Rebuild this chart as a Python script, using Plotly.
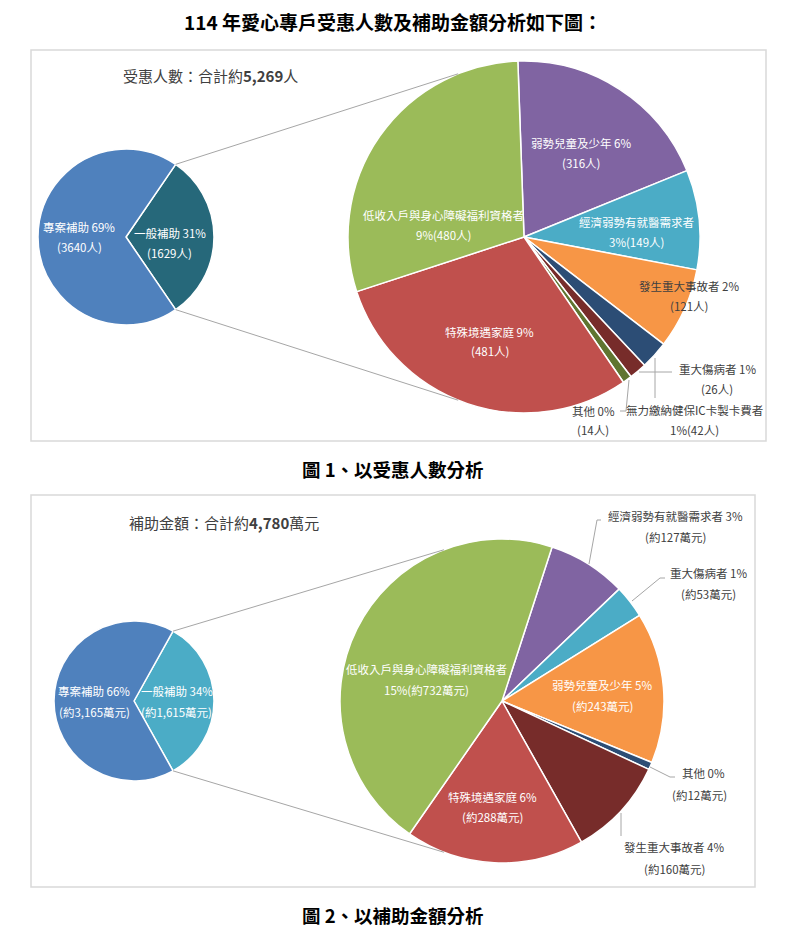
import math
import plotly.graph_objects as go

# ---------------- data ----------------
main_title = "114 年愛心專戶受惠人數及補助金額分析如下圖："
caption1 = "圖 1、以受惠人數分析"
caption2 = "圖 2、以補助金額分析"

total_people = "5,269"
total_money = "4,780"

split_labels = ["一般補助", "專案補助"]
split_people = [1629, 3640]
split_people_pct = ["31%", "69%"]
split_money = [1615, 3165]
split_money_pct = ["34%", "66%"]

people_cats = ["弱勢兒童及少年", "經濟弱勢有就醫需求者", "發生重大事故者",
               "無力繳納健保IC卡製卡費者", "重大傷病者", "其他",
               "特殊境遇家庭", "低收入戶與身心障礙福利資格者"]
people_vals = [316, 149, 121, 42, 26, 14, 481, 480]
people_pct = ["6%", "3%", "2%", "1%", "1%", "0%", "9%", "9%"]

money_cats = ["經濟弱勢有就醫需求者", "重大傷病者", "弱勢兒童及少年", "其他",
              "發生重大事故者", "特殊境遇家庭", "低收入戶與身心障礙福利資格者"]
money_vals = [127, 53, 243, 12, 160, 288, 732]
money_pct = ["3%", "1%", "5%", "0%", "4%", "6%", "15%"]

# ---------------- styling ----------------
W, H = 787, 928
CJK = "Noto Sans CJK TC"
DARK = "#404040"
GREY = "#A6A6A6"

people_colors = ["#8064A2", "#4BACC6", "#F79646", "#2C4D75", "#772C2A",
                 "#5F7530", "#C0504D", "#9BBB59"]
money_colors = ["#8064A2", "#4BACC6", "#F79646", "#2C4D75", "#772C2A",
                "#C0504D", "#9BBB59"]


def px(x):
    return x / W


def py(y):
    return 1 - y / H


fig = go.Figure()
shapes = []
annotations = []


def add_pie(values, colors, cx, cy, r, rotation):
    fig.add_trace(go.Pie(
        values=values, sort=False, direction="clockwise", rotation=rotation,
        domain=dict(x=[px(cx - r), px(cx + r)], y=[py(cy + r), py(cy - r)]),
        marker=dict(colors=colors, line=dict(color="white", width=1.5)),
        textinfo="none", hoverinfo="skip", showlegend=False))


def text(x, y, s, color=DARK, size=11.5, anchor="center", bold=False, family=CJK):
    annotations.append(dict(
        x=px(x), y=py(y), xref="paper", yref="paper", text=s, showarrow=False,
        xanchor=anchor, yanchor="middle",
        font=dict(family=family, size=size, color=color,
                  weight="bold" if bold else "normal")))


def label(x, y1, y2, l1, l2, color, x2=None):
    text(x, y1, l1, color)
    text(x if x2 is None else x2, y2, l2, color)


def line_path(points, color=GREY, width=1):
    d = "M " + " L ".join(f"{px(a)},{py(b)}" for a, b in points)
    shapes.append(dict(type="path", path=d, xref="paper", yref="paper",
                       line=dict(color=color, width=width)))


def box(x0, y0, x1, y1):
    shapes.append(dict(type="rect", xref="paper", yref="paper",
                       x0=px(x0), x1=px(x1), y0=py(y1), y1=py(y0),
                       line=dict(color="#D9D9D9", width=1.5), layer="below"))


def connectors(share, rot, scx, scy, sr, bcx, bcy, br, ang=22):
    a1 = math.radians(rot)
    a2 = math.radians(rot + 360 * share)
    p1 = (scx + sr * math.sin(a1), scy - sr * math.cos(a1))
    p2 = (scx + sr * math.sin(a2), scy - sr * math.cos(a2))
    b = math.radians(ang)
    q1 = (bcx - br * math.sin(b), bcy - br * math.cos(b))
    q2 = (bcx - br * math.sin(b), bcy + br * math.cos(b))
    line_path([p1, q1])
    line_path([p2, q2])


def two_lines(cat, pct, val, style, unit_fmt):
    v = unit_fmt(val)
    if style == "a":
        return f"{cat} {pct}", f"({v})"
    return cat, f"{pct}({v})"


# ---------------- panel 1 ----------------
box(31, 50, 766, 441)
s1 = split_people[0] / sum(split_people)
rot_s1 = 90 - 180 * s1
add_pie(split_people, ["#26687A", "#4F81BD"], 126, 237, 88, rot_s1)
add_pie(people_vals, people_colors, 524, 237, 176, -2)
connectors(s1, rot_s1, 126, 237, 88, 524, 237, 176)

text(121, 76, f"受惠人數：合計約<b>{total_people}</b>人", DARK, 15, "left")
text(79, 227, f"{split_labels[1]} {split_people_pct[1]}", "white")
text(79, 247, f"({split_people[1]}人)", "white")
text(170, 233, f"{split_labels[0]} {split_people_pct[0]}", "white")
text(169, 253, f"({split_people[0]}人)", "white")

p_styles = ["a", "b", "a", "b", "a", "a", "a", "b"]
p_pos = [(581, 143, 163, "white"), (636, 222, 242, "white"),
         (689, 286, 306, DARK), (694, 410, 430, DARK),
         (717, 369, 389, DARK), (593, 411, 430, DARK),
         (490, 332, 351, "white"), (444, 215, 235, "white")]
for i, cat in enumerate(people_cats):
    l1, l2 = two_lines(cat, people_pct[i], people_vals[i], p_styles[i],
                       lambda v: f"{v}人")
    x, y1, y2, c = p_pos[i]
    label(x, y1, y2, l1, l2, c)

line_path([(639, 372), (672, 372)])
line_path([(655, 358), (655, 398)])
line_path([(629, 380), (626, 411), (620, 411)])

# ---------------- panel 2 ----------------
box(31, 495, 755, 887)
s2 = split_money[0] / sum(split_money)
rot_s2 = 90 - 180 * s2
add_pie(split_money, ["#4BACC6", "#4F81BD"], 134, 701, 80, rot_s2)
add_pie(money_vals, money_colors, 502, 701, 162, 18)
connectors(s2, rot_s2, 134, 701, 80, 502, 701, 162, 21)

text(127, 522, f"補助金額：合計約<b>{total_money}</b>萬元", DARK, 15, "left")
text(94, 691, f"{split_labels[1]} {split_money_pct[1]}", "white")
text(94, 712, f"(約{split_money[1]:,}萬元)", "white")
text(177, 691, f"{split_labels[0]} {split_money_pct[0]}", "white")
text(176, 712, f"(約{split_money[0]:,}萬元)", "white")

m_styles = ["a", "a", "a", "a", "a", "a", "b"]
m_pos = [(675, 516, 537, DARK), (708, 573, 594, DARK),
         (602, 685, 706, "white"), (703, 773, 795, DARK),
         (674, 847, 869, DARK), (493, 797, 817, "white"),
         (427, 669, 690, "white")]
for i, cat in enumerate(money_cats):
    l1, l2 = two_lines(cat, money_pct[i], money_vals[i], m_styles[i],
                       lambda v: f"約{v}萬元")
    x, y1, y2, c = m_pos[i]
    label(x, y1, y2, l1, l2, c, x2=699 if cat == "其他" else None)

line_path([(589, 564), (597, 520), (601, 520)])
line_path([(632, 601), (660, 578), (665, 578)])
line_path([(650, 767), (670, 777), (675, 777)])
line_path([(621, 813), (621, 836)])

# ---------------- titles ----------------
text(393, 22, main_title, "black", 19, bold=True)
text(393, 469, caption1, "black", 18.5, bold=True)
text(393, 915, caption2, "black", 18.5, bold=True)

fig.update_layout(
    width=W, height=H, margin=dict(l=0, r=0, t=0, b=0),
    paper_bgcolor="white", plot_bgcolor="white",
    shapes=shapes, annotations=annotations, showlegend=False)

fig.write_html("out.html")
